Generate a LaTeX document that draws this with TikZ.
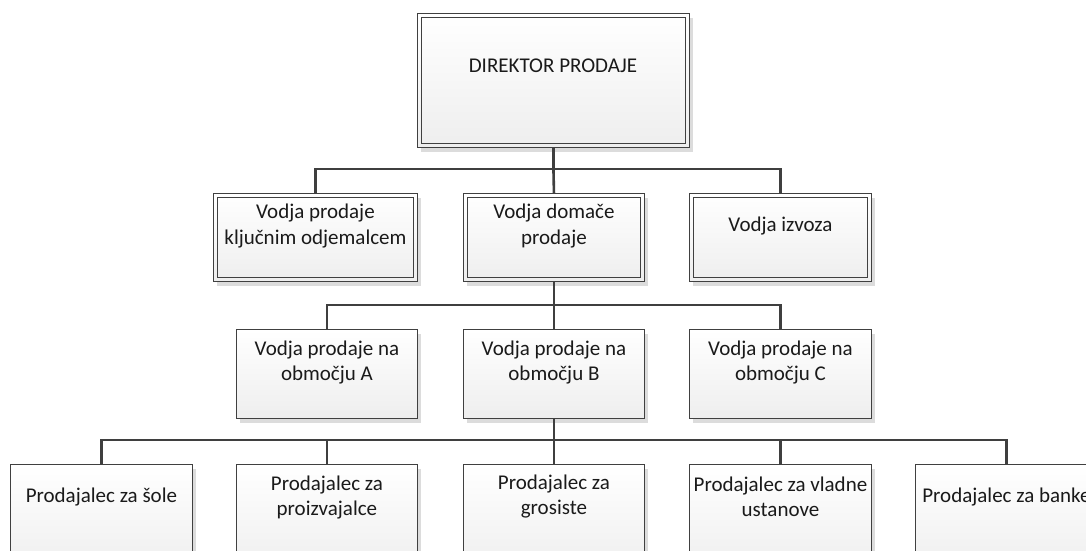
\documentclass[tikz,border=0pt]{standalone}
\usepackage{fontspec}
\setmainfont{Carlito}
\usetikzlibrary{shadows}
\definecolor{edgec}{HTML}{404040}
\definecolor{linec}{HTML}{3F3F3F}
\definecolor{txtc}{HTML}{1A1A1A}
\definecolor{shadowc}{HTML}{DCDCDC}
\definecolor{fillbot}{HTML}{EEEEEE}
\tikzset{
  box/.style={rectangle, draw=edgec, line width=0.9pt, anchor=north west,
    inner sep=0pt, top color=white, bottom color=fillbot,
    drop shadow={shadow xshift=4pt, shadow yshift=-5pt, fill=shadowc, opacity=1}},
  lbl/.style={align=center, text=txtc, inner sep=0pt,
    font=\fontsize{21}{25}\selectfont},
  conn/.style={draw=linec, line width=2.6pt},
  innerframe/.style={draw=edgec, line width=0.9pt}
}
% draws the inner line of a double-framed box
\newcommand{\dblframe}[1]{%
  \draw[innerframe] ([shift={(4,4)}]#1.north west) rectangle ([shift={(-4,-4)}]#1.south east);}
\begin{document}
\begin{tikzpicture}[x=1pt, y=-1pt]
\useasboundingbox (0,0) rectangle (1086,550);
\fill[white] (0,0) rectangle (1086,550);
\clip (0,0) rectangle (1086,550);

% level 1
\node[box, minimum width=272pt, minimum height=134pt] (dir) at (417,13) {};
\dblframe{dir}
\node[lbl] (tdir) at (553,66) {DIREKTOR PRODAJE};

% level 2
\node[box, minimum width=204pt, minimum height=88pt] (kljuc) at (213,193) {};
\node[box, minimum width=181pt, minimum height=88pt] (domac) at (463,193) {};
\node[box, minimum width=182pt, minimum height=88pt] (izvoz) at (689,193) {};
\dblframe{kljuc}\dblframe{domac}\dblframe{izvoz}
\node[lbl] (tkljuc) at (kljuc.north |- 0,226) {Vodja prodaje\\ključnim odjemalcem};
\node[lbl] (tdomac) at (domac.north |- 0,226) {Vodja domače\\prodaje};
\node[lbl] (tizvoz) at (izvoz.north |- 0,226) {Vodja izvoza};

% level 3
\node[box, minimum width=181pt, minimum height=89pt] (obA) at (236,329) {};
\node[box, minimum width=181pt, minimum height=89pt] (obB) at (463,329) {};
\node[box, minimum width=182pt, minimum height=89pt] (obC) at (689,329) {};
\node[lbl] (tobA) at (obA.north |- 0,362) {Vodja prodaje na\\območju A};
\node[lbl] (tobB) at (obB.north |- 0,362) {Vodja prodaje na\\območju B};
\node[lbl] (tobC) at (obC.north |- 0,362) {Vodja prodaje na\\območju C};

% level 4
\node[box, minimum width=182pt, minimum height=110pt] (sole) at (10,464) {};
\node[box, minimum width=181pt, minimum height=110pt] (proiz) at (236,464) {};
\node[box, minimum width=181pt, minimum height=110pt] (gros) at (463,464) {};
\node[box, minimum width=182pt, minimum height=110pt] (vlad) at (689,464) {};
\node[box, minimum width=182pt, minimum height=110pt] (bank) at (915,464) {};
\node[lbl] (tsole) at (sole.north |- 0,497) {Prodajalec za šole};
\node[lbl] (tproiz) at (proiz.north |- 0,497) {Prodajalec za\\proizvajalce};
\node[lbl] (tgros) at (gros.north |- 0,497) {Prodajalec za\\grosiste};
\node[lbl] (tvlad) at (vlad.north |- 0,497) {Prodajalec za vladne\\ustanove};
\node[lbl] (tbank) at (bank.north |- 0,497) {Prodajalec za banke};

% connector buses
\coordinate (bus1) at (dir.south |- 0,169);
\coordinate (bus2) at (domac.south |- 0,305);
\coordinate (bus3) at (obB.south |- 0,440);

\draw[conn] (dir.south) -- (bus1);
\draw[conn] (kljuc.north) |- (bus1) -| (izvoz.north);
\draw[conn] (bus1) -- (domac.north);

\draw[conn] (domac.south) -- (bus2);
\draw[conn] (obA.north) |- (bus2) -| (obC.north);
\draw[conn] (bus2) -- (obB.north);

\draw[conn] (obB.south) -- (bus3);
\draw[conn] (sole.north) |- (bus3) -| (bank.north);
\draw[conn] (proiz.north) -- (proiz.north |- bus3);
\draw[conn] (bus3) -- (gros.north);
\draw[conn] (vlad.north) -- (vlad.north |- bus3);
\end{tikzpicture}
\end{document}
